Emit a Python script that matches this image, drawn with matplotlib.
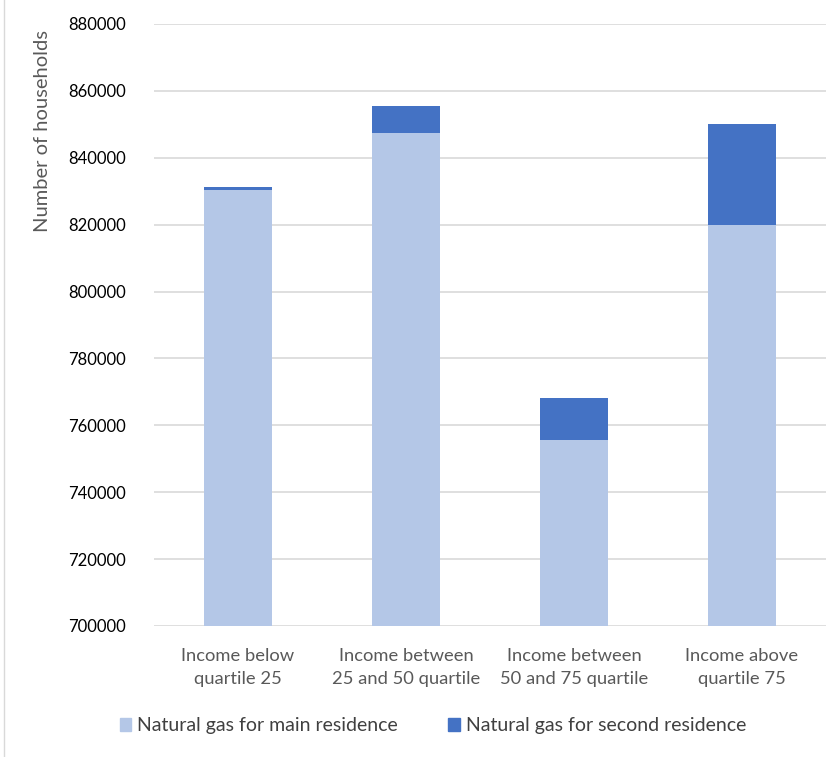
import matplotlib
matplotlib.use("Agg")
import matplotlib.pyplot as plt
from matplotlib.lines import Line2D

# ─── DATA ──────────────────────────────────────────────────────────────────────
categories = [
    "Income below\nquartile 25",
    "Income between\n25 and 50 quartile",
    "Income between\n50 and 75 quartile",
    "Income above\nquartile 75",
]
main_residence   = [830500, 847400, 755700, 819800]
second_residence = [800, 8000, 12400, 30400]
yticks = [700000, 720000, 740000, 760000, 780000, 800000, 820000, 840000, 860000, 880000]
# ───────────────────────────────────────────────────────────────────────────────

MAIN_COLOR = "#B4C7E7"
SECOND_COLOR = "#4472C4"
GRID_COLOR = "#D9D9D9"
TEXT_GRAY = "#595959"

plt.rcParams["font.family"] = ["Lato", "DejaVu Sans"]

fig = plt.figure(figsize=(8.28, 7.57), dpi=100)
ax = fig.add_axes([154 / 828, 1 - 626 / 757, 672 / 828, 602 / 757])

x = list(range(len(categories)))
ax.bar(x, main_residence, width=0.4, color=MAIN_COLOR, zorder=2,
       label="Natural gas for main residence")
ax.bar(x, second_residence, width=0.4, bottom=main_residence, color=SECOND_COLOR,
       zorder=2, label="Natural gas for second residence")

ax.set_xlim(-0.5, len(categories) - 0.5)
ax.set_ylim(700000, 880000)
ax.set_yticks(yticks)
ax.set_yticklabels([str(t) for t in yticks], fontsize=12, color="black")
ax.yaxis.grid(True, color=GRID_COLOR, linewidth=1.2, zorder=0)
ax.set_xticks(x)
ax.set_xticklabels(categories, fontsize=13.2, color=TEXT_GRAY, linespacing=1.5)
ax.tick_params(axis="both", length=0)
ax.tick_params(axis="y", pad=20)
ax.tick_params(axis="x", pad=16)
for side in ["top", "right", "left", "bottom"]:
    ax.spines[side].set_visible(False)

# axis title sits near the top of the value axis
ax.set_ylabel("Number of households", fontsize=14.5, color=TEXT_GRAY)
ax.yaxis.set_label_coords(-103 / 672, 0.822)

# legend across the bottom
handles = [
    plt.Rectangle((0, 0), 1, 1, color=MAIN_COLOR),
    plt.Rectangle((0, 0), 1, 1, color=SECOND_COLOR),
]
fig.legend(handles, ["Natural gas for main residence", "Natural gas for second residence"],
           loc="center", bbox_to_anchor=(433 / 828, 1 - 726 / 757), ncol=2,
           frameon=False, fontsize=14, handlelength=0.6, handleheight=0.6,
           handletextpad=0.3, columnspacing=2.6, labelcolor="#404040")

# thin chart border on the left edge
fig.add_artist(Line2D([4 / 828, 4 / 828], [0, 1], transform=fig.transFigure,
                      color=GRID_COLOR, linewidth=1))

fig.savefig("out.png", dpi=100)
